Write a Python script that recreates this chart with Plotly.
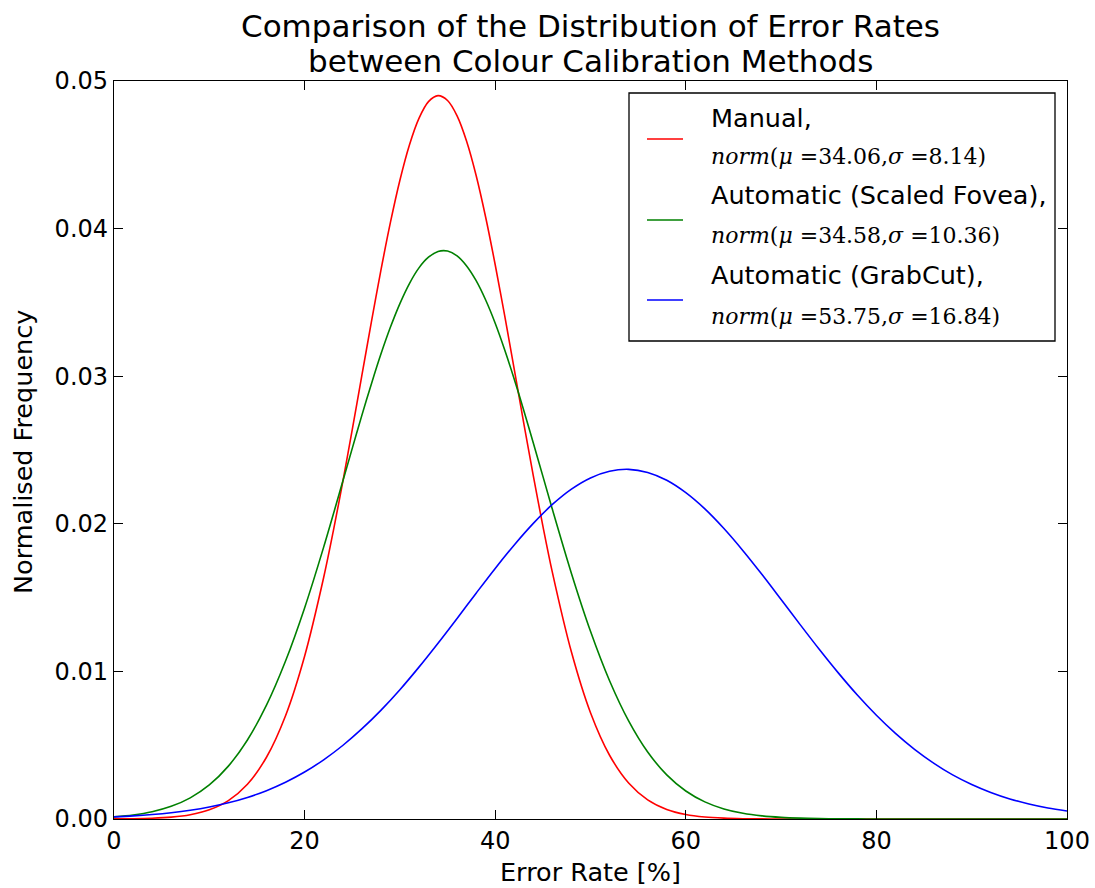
import plotly.graph_objects as go

# ---- data ----
manual_x = list(range(0, 23, 2)) + list(range(23, 46)) + list(range(46, 101, 2))
manual = [0.000008, 0.000021, 0.000053, 0.000128, 0.000292, 0.000621, 0.001246, 0.002352,
          0.004185, 0.00700, 0.01103, 0.01636,
          0.01947, 0.02283, 0.02638, 0.03002, 0.03364, 0.03715, 0.04040, 0.04328, 0.04567,
          0.04747, 0.04860, 0.04901, 0.04868, 0.04764, 0.04592, 0.04360, 0.04077, 0.03755,
          0.03408, 0.03046, 0.02681, 0.02325, 0.01986,
          0.01671, 0.01131, 0.00720, 0.00432, 0.00244, 0.00130, 0.00065, 0.000305, 0.000135,
          0.000057, 0.000022, 0.000008, 0.000003, 0.000001, 0, 0, 0, 0, 0, 0, 0, 0, 0, 0,
          0, 0, 0, 0]

fovea_x = list(range(0, 25, 2)) + list(range(25, 46)) + list(range(46, 101, 2))
scaled_fovea = [0.000147, 0.000274, 0.000494, 0.000857, 0.001433, 0.002307, 0.003582, 0.005353,
                0.00771, 0.01070, 0.01430, 0.01842, 0.02286,
                0.02511, 0.02733, 0.02946, 0.03148, 0.03331, 0.03492, 0.03628, 0.03734, 0.03806,
                0.03845, 0.03848, 0.03815, 0.03747, 0.03647, 0.03516, 0.03359, 0.03178, 0.02980,
                0.02768, 0.02547, 0.02323,
                0.02098, 0.01664, 0.01272, 0.00937, 0.00665, 0.00454, 0.00299, 0.001898, 0.00116,
                0.000683, 0.000387, 0.000212, 0.000112, 0.000057, 0.000028, 0.000013, 0.000006,
                0.000003, 0.000001, 0, 0, 0, 0, 0, 0, 0, 0, 0]

grabcut_x = list(range(0, 101, 2))
grabcut = [0.000145, 0.000211, 0.000302, 0.000425, 0.000591, 0.000811, 0.001096, 0.001462,
           0.00192, 0.00249, 0.00318, 0.00401, 0.00498, 0.00610, 0.00736, 0.00876, 0.01029,
           0.01191, 0.01359, 0.01530, 0.01698, 0.01857, 0.02003, 0.02131, 0.02235, 0.02311,
           0.02356, 0.02369, 0.02348, 0.02295, 0.02211, 0.02101, 0.01968, 0.01818, 0.01656,
           0.01487, 0.01317, 0.01150, 0.00990, 0.00840, 0.00703, 0.00580, 0.00472, 0.00379,
           0.00299, 0.00234, 0.00180, 0.00136, 0.00102, 0.00075, 0.000545]

title_lines = ["Comparison of the Distribution of Error Rates", "between Colour Calibration Methods"]
series_names = ["Manual,", "Automatic (Scaled Fovea),", "Automatic (GrabCut),"]
series_params = [("34.06", "8.14"), ("34.58", "10.36"), ("53.75", "16.84")]
series_colors = ["#ff0000", "#008000", "#0000ff"]
x_ticks = [0, 20, 40, 60, 80, 100]
y_ticks = [0.00, 0.01, 0.02, 0.03, 0.04, 0.05]

W, H = 1095, 888
L, R, T, B = 114, 1067, 81, 819

def px(x):
    return (x - L) / (R - L)

def py(y):
    return (B - y) / (B - T)

SANS = "DejaVu Sans, Bitstream Vera Sans, sans-serif"
SERIF = "DejaVu Serif, Liberation Serif, serif"

fig = go.Figure()
for name, xs, ys, col in zip(series_names, [manual_x, fovea_x, grabcut_x],
                             [manual, scaled_fovea, grabcut], series_colors):
    fig.add_trace(go.Scatter(x=xs, y=ys, mode="lines", name=name, showlegend=False,
                             line=dict(color=col, width=1.6, shape="spline", smoothing=0.9)))

axis_common = dict(showgrid=False, zeroline=False, showline=True, linecolor="black", linewidth=1.3,
                   mirror="allticks", ticks="inside", ticklen=9, tickwidth=1, tickcolor="black",
                   automargin=False, tickfont=dict(family=SANS, size=24, color="black"))

fig.update_xaxes(range=[0, 100], tickvals=x_ticks, ticktext=[str(v) for v in x_ticks], **axis_common)
fig.update_yaxes(range=[0, 0.05], tickvals=y_ticks, ticktext=[f"{v:.2f}" for v in y_ticks], **axis_common)

shapes = [dict(type="rect", xref="paper", yref="paper", x0=px(629), x1=px(1055), y0=py(341), y1=py(93),
               line=dict(color="black", width=1.3), fillcolor="white", layer="above")]
annotations = [
    dict(text=title_lines[0], xref="paper", yref="paper", x=0.5, y=py(26), yanchor="middle",
         xanchor="center", showarrow=False, font=dict(family=SANS, size=31, color="black")),
    dict(text=title_lines[1], xref="paper", yref="paper", x=0.5, y=py(61), yanchor="middle",
         xanchor="center", showarrow=False, font=dict(family=SANS, size=31, color="black")),
    dict(text="Error Rate [%]", xref="paper", yref="paper", x=px(590), y=py(872),
         xanchor="center", yanchor="middle", showarrow=False,
         font=dict(family=SANS, size=25.5, color="black")),
    dict(text="Normalised Frequency", xref="paper", yref="paper", x=px(23), y=py(452), textangle=-90,
         xanchor="center", yanchor="middle", showarrow=False,
         font=dict(family=SANS, size=25.5, color="black")),
]

sample_y = [139, 220, 300]
name_y = [118, 195, 275]
math_y = [156, 236, 316]
for i in range(3):
    shapes.append(dict(type="line", xref="paper", yref="paper", x0=px(647), x1=px(683),
                       y0=py(sample_y[i]), y1=py(sample_y[i]), line=dict(color=series_colors[i], width=1.6),
                       layer="above"))
    annotations.append(dict(text=series_names[i], xref="paper", yref="paper", x=px(709), y=py(name_y[i]),
                            xanchor="left", yanchor="middle", showarrow=False,
                            font=dict(family=SANS, size=25.5, color="black")))
    mu, sd = series_params[i]
    annotations.append(dict(text=f"<i>norm</i>(<i>μ</i> ={mu},<i>σ</i> ={sd})", xref="paper", yref="paper",
                            x=px(709), y=py(math_y[i]), xanchor="left", yanchor="middle", showarrow=False,
                            font=dict(family=SERIF, size=22, color="black")))

fig.update_layout(width=W, height=H, margin=dict(l=L, r=W - R, t=T, b=H - B, pad=0),
                  plot_bgcolor="white", paper_bgcolor="white", shapes=shapes, annotations=annotations)

fig.write_html("out.html", config={"displayModeBar": False},
               post_script="document.body.style.margin='0';document.body.style.overflow='hidden';")
